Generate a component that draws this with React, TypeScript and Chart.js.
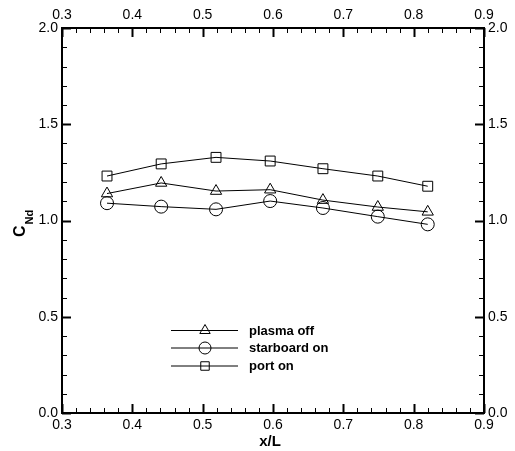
import React, { useEffect, useRef } from 'react';
import { Chart, registerables } from 'chart.js';
import { drawPoint } from 'chart.js/helpers';

Chart.register(...registerables);

// ---- data ----
const xValues = [0.364, 0.441, 0.519, 0.596, 0.671, 0.749, 0.82];
const plasmaOff = [1.14, 1.195, 1.153, 1.16, 1.106, 1.07, 1.045];
const starboardOn = [1.09, 1.072, 1.058, 1.101, 1.065, 1.02, 0.98];
const portOn = [1.231, 1.294, 1.328, 1.309, 1.269, 1.231, 1.178];
const seriesNames = ['plasma off', 'starboard on', 'port on'];
const seriesStyles = ['triangle', 'circle', 'rect'];
const xMajorTicks = [0.3, 0.4, 0.5, 0.6, 0.7, 0.8, 0.9];
const yMajorTicks = [0.0, 0.5, 1.0, 1.5, 2.0];
const xMinorStep = 0.02;
const yMinorStep = 0.1;
const xTitle = 'x/L';
const yTitleMain = 'C';
const yTitleSub = 'Nd';

const FONT = "'Liberation Sans', Arial, Helvetica, sans-serif";

const radiusFor = (s: string) => (s === 'rect' ? 7 : s === 'circle' ? 6.5 : 6.5);

const decoPlugin = {
  id: 'deco',
  afterDraw(chart: any) {
    const ctx = chart.ctx;
    const area = chart.chartArea;
    const xs = chart.scales.x;
    const ys = chart.scales.y;
    ctx.save();
    ctx.strokeStyle = '#000';
    // x ticks (bottom & top, inward)
    const nx = Math.round((0.9 - 0.3) / xMinorStep);
    for (let i = 0; i <= nx; i++) {
      const v = 0.3 + i * xMinorStep;
      const px = Math.round(xs.getPixelForValue(v)) + 0.5;
      const major = i % 5 === 0;
      const len = major ? 9 : 5;
      ctx.lineWidth = major ? 2 : 1;
      ctx.beginPath();
      ctx.moveTo(px, area.bottom);
      ctx.lineTo(px, area.bottom - len);
      ctx.moveTo(px, area.top);
      ctx.lineTo(px, area.top + len);
      ctx.stroke();
    }
    const ny = Math.round(2 / yMinorStep);
    for (let i = 0; i <= ny; i++) {
      const v = i * yMinorStep;
      const py = Math.round(ys.getPixelForValue(v)) + 0.5;
      const major = i % 5 === 0;
      const len = major ? 9 : 5;
      ctx.lineWidth = major ? 2 : 1;
      ctx.beginPath();
      ctx.moveTo(area.left, py);
      ctx.lineTo(area.left + len, py);
      ctx.moveTo(area.right, py);
      ctx.lineTo(area.right - len, py);
      ctx.stroke();
    }
    // axis titles
    ctx.fillStyle = '#000';
    ctx.font = `bold 15px ${FONT}`;
    ctx.textAlign = 'center';
    ctx.textBaseline = 'middle';
    ctx.fillText(xTitle, 270, 442);

    ctx.save();
    ctx.translate(25, 237);
    ctx.rotate(-Math.PI / 2);
    ctx.textAlign = 'left';
    ctx.textBaseline = 'alphabetic';
    ctx.font = `bold 16px ${FONT}`;
    ctx.fillText(yTitleMain, 0, 0);
    const w = ctx.measureText(yTitleMain).width;
    ctx.font = `bold 11px ${FONT}`;
    ctx.fillText(yTitleSub, w + 1, 8);
    ctx.restore();

    // legend
    const rows = [330, 347.5, 365.5];
    rows.forEach((ry, i) => {
      ctx.lineWidth = 1;
      ctx.strokeStyle = '#000';
      ctx.beginPath();
      ctx.moveTo(171, ry + 0.5);
      ctx.lineTo(238, ry + 0.5);
      ctx.stroke();
      const st = seriesStyles[i];
      ctx.fillStyle = 'rgba(0,0,0,0)';
      drawPoint(ctx, { pointStyle: st, radius: 6, rotation: 0, borderWidth: 1 }, 205, ry + 0.5);
      ctx.fillStyle = '#000';
      ctx.font = `bold 13px ${FONT}`;
      ctx.textAlign = 'left';
      ctx.textBaseline = 'middle';
      ctx.fillText(seriesNames[i], 249, ry + 1);
    });
    ctx.restore();
  },
};

export default function App() {
  const ref = useRef<HTMLCanvasElement | null>(null);
  useEffect(() => {
    if (!ref.current) return;
    const mk = (name: string, vals: number[], style: string) => ({
      label: name,
      data: xValues.map((x, i) => ({ x, y: vals[i] })),
      borderColor: '#000',
      borderWidth: 1,
      backgroundColor: 'rgba(0,0,0,0)',
      pointStyle: style,
      pointRadius: radiusFor(style),
      pointBorderWidth: 1,
      pointBorderColor: '#000',
      pointBackgroundColor: 'rgba(0,0,0,0)',
      fill: false,
      tension: 0,
    });
    const tickFont = { family: FONT, size: 14 };
    const xAxis = (pos: string, h: number) => ({
      type: 'linear',
      position: pos,
      min: 0.3,
      max: 0.9,
      grid: { display: true, drawOnChartArea: false, drawTicks: false },
      border: { display: true, width: 2, color: '#000' },
      ticks: {
        color: '#000',
        font: tickFont,
        padding: 4,
        autoSkip: false,
        maxRotation: 0,
        callback: (v: number) => Number(v).toFixed(1),
      },
      afterBuildTicks: (s: any) => {
        s.ticks = xMajorTicks.map((v) => ({ value: v }));
      },
      afterFit: (s: any) => {
        s.height = h;
      },
    });
    const yAxis = (pos: string, w: number) => ({
      type: 'linear',
      position: pos,
      min: 0,
      max: 2,
      grid: { display: true, drawOnChartArea: false, drawTicks: false },
      border: { display: true, width: 2, color: '#000' },
      ticks: {
        color: '#000',
        font: tickFont,
        padding: 4,
        autoSkip: false,
        callback: (v: number) => Number(v).toFixed(1),
      },
      afterBuildTicks: (s: any) => {
        s.ticks = yMajorTicks.map((v) => ({ value: v }));
      },
      afterFit: (s: any) => {
        s.width = w;
      },
    });
    const chart = new Chart(ref.current, {
      type: 'line',
      data: {
        datasets: [
          mk(seriesNames[0], plasmaOff, seriesStyles[0]),
          mk(seriesNames[1], starboardOn, seriesStyles[1]),
          mk(seriesNames[2], portOn, seriesStyles[2]),
        ],
      },
      options: {
        responsive: false,
        animation: false,
        devicePixelRatio: 1,
        layout: { padding: 0 },
        plugins: { legend: { display: false }, tooltip: { enabled: false }, title: { display: false } },
        scales: {
          x: xAxis('bottom', 38),
          x2: xAxis('top', 28),
          y: yAxis('left', 62),
          y2: yAxis('right', 31),
        } as any,
      },
      plugins: [decoPlugin],
    } as any);
    return () => chart.destroy();
  }, []);
  return (
    <div style={{ position: 'absolute', left: 0, top: 0, width: 515, height: 451, background: '#fff' }}>
      <canvas ref={ref} width={515} height={451} style={{ display: 'block' }} />
    </div>
  );
}
